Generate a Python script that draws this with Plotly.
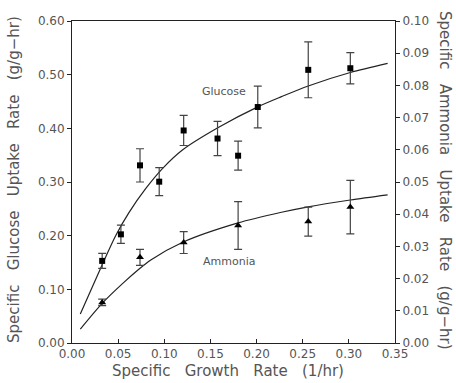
import plotly.graph_objects as go

# Glucose data (left axis)
mu_glc = [0.0327, 0.053, 0.0737, 0.0945, 0.121, 0.1577, 0.180, 0.2013, 0.256, 0.3016]
q_glc = [0.153, 0.2025, 0.331, 0.3006, 0.396, 0.381, 0.349, 0.4397, 0.509, 0.512]
err_glc = [0.014, 0.017, 0.031, 0.026, 0.028, 0.032, 0.027, 0.039, 0.052, 0.029]

# Ammonia data (right axis)
mu_nh = [0.0327, 0.0737, 0.121, 0.180, 0.256, 0.3016]
q_nh = [0.0126, 0.0266, 0.0312, 0.0365, 0.0377, 0.0422]
err_nh = [0.001, 0.0025, 0.0034, 0.0074, 0.0045, 0.0083]

# Fitted curves
fit_glc_x = [0.009, 0.0327, 0.0473, 0.0617, 0.080, 0.098, 0.12, 0.158, 0.2013, 0.227, 0.256, 0.3016, 0.342]
fit_glc_y = [0.054, 0.146, 0.200, 0.243, 0.288, 0.325, 0.360, 0.401, 0.440, 0.459, 0.479, 0.504, 0.521]
fit_nh_x = [0.009, 0.0327, 0.055, 0.0737, 0.0854, 0.12, 0.18, 0.227, 0.256, 0.3016, 0.342]
fit_nh_y = [0.0043, 0.0123, 0.0185, 0.0232, 0.0258, 0.0313, 0.0373, 0.0406, 0.0423, 0.0444, 0.046]

x_ticks = [0.00, 0.05, 0.10, 0.15, 0.20, 0.25, 0.30, 0.35]
y_ticks = [0.00, 0.10, 0.20, 0.30, 0.40, 0.50, 0.60]
y2_ticks = [0.00, 0.01, 0.02, 0.03, 0.04, 0.05, 0.06, 0.07, 0.08, 0.09, 0.10]

ink = "#222222"
txt = "#555555"
font = "DejaVu Sans"

W, H = 456, 383
ML, MR, MT, MB = 72, 61, 21, 40
pw = W - ML - MR
ph = H - MT - MB


def px_to_paper(px, py):
    return (px - ML) / pw, (H - MB - py) / ph


fig = go.Figure()
fig.add_trace(go.Scatter(x=fit_glc_x, y=fit_glc_y, mode="lines",
                         line=dict(color=ink, width=1.2, shape="spline", smoothing=0.8),
                         showlegend=False, hoverinfo="skip"))
fig.add_trace(go.Scatter(x=mu_glc, y=q_glc, mode="markers",
                         marker=dict(symbol="square", size=6, color="black"),
                         error_y=dict(type="data", array=err_glc, color="#444444", thickness=1.2, width=4),
                         showlegend=False))
fig.add_trace(go.Scatter(x=fit_nh_x, y=fit_nh_y, mode="lines", yaxis="y2",
                         line=dict(color=ink, width=1.2, shape="spline", smoothing=0.8),
                         showlegend=False, hoverinfo="skip"))
fig.add_trace(go.Scatter(x=mu_nh, y=q_nh, mode="markers", yaxis="y2",
                         marker=dict(symbol="triangle-up", size=7, color="black"),
                         error_y=dict(type="data", array=err_nh, color="#444444", thickness=1.2, width=4),
                         showlegend=False))

axis_common = dict(showgrid=False, zeroline=False, showline=True, linecolor=ink, linewidth=1,
                   tickfont=dict(family=font, size=12, color=txt), tickcolor=ink, ticklen=4)

bx, by = px_to_paper(228, 371)
lx, ly = px_to_paper(14, 180)
rx, ry = px_to_paper(445, 180)

sp = "\u00a0\u00a0\u00a0"
fig.update_layout(
    width=W, height=H,
    margin=dict(l=ML, r=MR, t=MT, b=MB),
    paper_bgcolor="white", plot_bgcolor="white",
    xaxis=dict(range=[0, 0.35], tickvals=x_ticks, ticktext=[f"{v:.2f}" for v in x_ticks],
               ticks="inside", mirror=True, **axis_common),
    yaxis=dict(range=[0, 0.6], tickvals=y_ticks, ticktext=[f"{v:.2f}" for v in y_ticks],
               ticks="outside", **axis_common),
    yaxis2=dict(range=[0, 0.1], tickvals=y2_ticks, ticktext=[f"{v:.2f}" for v in y2_ticks],
                ticks="outside", overlaying="y", side="right", **axis_common),
    annotations=[
        dict(text="Glucose", x=0.165, y=0.4695, xref="x", yref="y", showarrow=False,
             font=dict(family=font, size=11, color=txt)),
        dict(text="Ammonia", x=0.1705, y=0.1515, xref="x", yref="y", showarrow=False,
             font=dict(family=font, size=11, color=txt)),
        dict(text=sp.join(["Specific", "Growth", "Rate", "(1/hr)"]), x=bx, y=by, xref="paper", yref="paper",
             xanchor="center", yanchor="middle",
             showarrow=False, font=dict(family=font, size=15, color=txt)),
        dict(text=sp.join(["Specific", "Glucose", "Uptake", "Rate", "(g/g\u2212hr)"]), x=lx, y=ly,
             xref="paper", yref="paper", xanchor="center", yanchor="middle", showarrow=False,
             textangle=-90, font=dict(family=font, size=15, color=txt)),
        dict(text=sp.join(["Specific", "Ammonia", "Uptake", "Rate", "(g/g\u2212hr)"]), x=rx, y=ry,
             xref="paper", yref="paper", xanchor="center", yanchor="middle", showarrow=False,
             textangle=90, font=dict(family=font, size=15, color=txt)),
    ],
)

fig.write_html("out.html")
